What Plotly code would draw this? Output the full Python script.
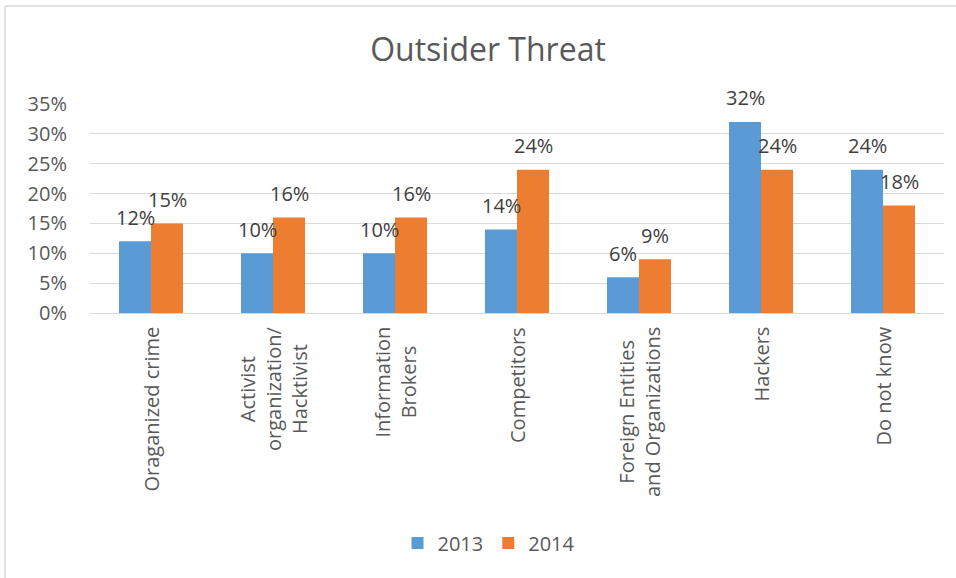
import plotly.graph_objects as go

# Survey data: share of respondents naming each outsider threat
categories = [
    "Oraganized crime",
    "Activist organization/ Hacktivist",
    "Information Brokers",
    "Competitors",
    "Foreign Entities and Organizations",
    "Hackers",
    "Do not know",
]
category_labels = [
    "Oraganized crime",
    "Activist<br>organization/<br>Hacktivist",
    "Information<br>Brokers",
    "Competitors",
    "Foreign Entities<br>and Organizations",
    "Hackers",
    "Do not know",
]
values_2013 = [0.12, 0.10, 0.10, 0.14, 0.06, 0.32, 0.24]
values_2014 = [0.15, 0.16, 0.16, 0.24, 0.09, 0.24, 0.18]
series_names = ["2013", "2014"]
y_ticks = [0, 0.05, 0.10, 0.15, 0.20, 0.25, 0.30, 0.35]

BLUE = "#5B9BD5"
ORANGE = "#ED7D31"
FONT = "Open Sans"
W, H = 956, 578
ML, MR, MT, MB = 90, 12, 104, 265

fig = go.Figure()
for name, vals, color in [(series_names[0], values_2013, BLUE),
                          (series_names[1], values_2014, ORANGE)]:
    fig.add_trace(go.Bar(
        name=name, x=categories, y=vals, marker_color=color,
        marker_line_width=0,
    ))

annotations = []
# value labels above each bar
bar_px = 32
for vals, dx in [(values_2013, -bar_px / 2), (values_2014, bar_px / 2)]:
    for cat, v in zip(categories, vals):
        annotations.append(dict(
            x=cat, y=v, xref="x", yref="y", text=f"{round(v * 100)}%",
            showarrow=False, xshift=dx, yshift=24, yanchor="middle",
            font=dict(family=FONT, size=20, color="#404040"),
        ))

# rotated category labels under the axis
for cat, lab in zip(categories, category_labels):
    annotations.append(dict(
        x=cat, y=0, xref="x", yref="paper", text=lab, textangle=-90,
        showarrow=False, yanchor="top", xanchor="center", yshift=-12,
        align="center", font=dict(family=FONT, size=20, color="#595959"),
    ))

fig.update_layout(
    width=W, height=H,
    margin=dict(l=ML, r=MR, t=MT, b=MB, pad=0),
    paper_bgcolor="white", plot_bgcolor="white",
    barmode="group", bargap=0.475, bargroupgap=0,
    title=dict(text="Outsider Threat", x=488 / W, xref="container",
               y=1 - 50 / H, yref="container", xanchor="center", yanchor="middle",
               font=dict(family=FONT, size=32, color="#595959")),
    font=dict(family=FONT, color="#595959"),
    legend=dict(orientation="h", xref="container", yref="container",
                x=489 / W, y=1 - 543 / H, xanchor="center", yanchor="middle",
                font=dict(family=FONT, size=20, color="#595959"),
                itemwidth=30, traceorder="normal"),
    annotations=annotations,
    showlegend=True,
)
fig.update_xaxes(showticklabels=False, showgrid=False, showline=True,
                 linecolor="#D9D9D9", linewidth=1, ticks="")
fig.update_yaxes(range=[0, 0.35], tickvals=y_ticks, tickformat=".0%",
                 showgrid=True, gridcolor="#D9D9D9", gridwidth=1,
                 zeroline=False, showline=False, ticks="",
                 ticklabelstandoff=22,
                 tickfont=dict(family=FONT, size=20, color="#595959"))

# chart frame edges (top and left)
pw, ph = W - ML - MR, H - MT - MB
def px_to_paper_x(px):
    return (px - ML) / pw
def px_to_paper_y(py):
    return (H - MB - py) / ph
frame = dict(color="#D9D9D9", width=1.5)
fig.add_shape(type="line", xref="paper", yref="paper",
              x0=px_to_paper_x(5), x1=px_to_paper_x(W), y0=px_to_paper_y(6), y1=px_to_paper_y(6),
              line=frame, layer="below")
fig.add_shape(type="line", xref="paper", yref="paper",
              x0=px_to_paper_x(5), x1=px_to_paper_x(5), y0=px_to_paper_y(6), y1=px_to_paper_y(H),
              line=frame, layer="below")

fig.write_html("out.html")
